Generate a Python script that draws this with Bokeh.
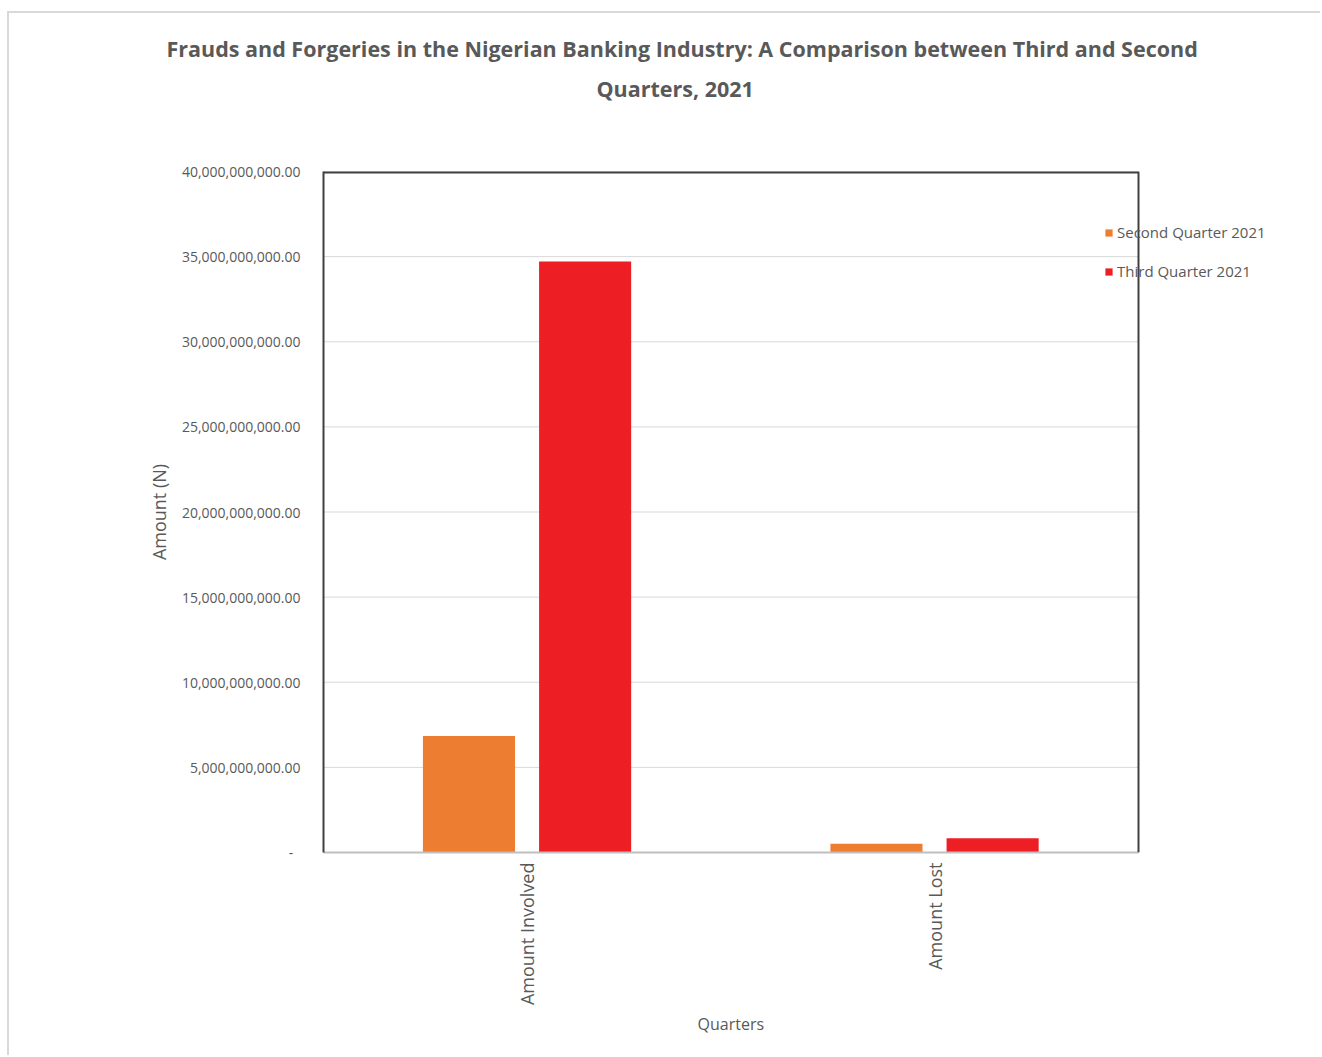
import math

from bokeh.plotting import figure
from bokeh.models import (ColumnDataSource, Range1d, NumeralTickFormatter, FixedTicker,
                          Title, Span)
from bokeh.transform import dodge
from bokeh.embed import file_html
from bokeh.resources import INLINE

# Frauds and forgeries, Nigerian banks, Q2 vs Q3 2021 (Naira)
categories = ["Amount Involved", "Amount Lost"]
series_names = ["Second Quarter 2021", "Third Quarter 2021"]
second_quarter_2021 = [6.85e9, 0.52e9]
third_quarter_2021 = [34.72e9, 0.84e9]
y_ticks = [0, 5e9, 10e9, 15e9, 20e9, 25e9, 30e9, 35e9, 40e9]
title_lines = [
    "Frauds and Forgeries in the Nigerian Banking Industry: A Comparison between Third and Second",
    "Quarters, 2021",
]
x_title = "Quarters"
y_title = "Amount (N)"

FONT = "Open Sans"
GREY_TEXT = "#595959"
BORDER = "#404040"
GRID = "#d9d9d9"
ORANGE = "#ED7D31"
RED = "#EE1F24"

# each category occupies one unit on the x scale, centred at i + 0.5
n_cat = len(categories)
cat_pos = [i + 0.5 for i in range(n_cat)]
Y_MAX = y_ticks[-1]

# the drawing area is 815 px wide for the categories; the frame runs on to the
# right so the legend can sit across the plot's right edge
PLOT_PX, FRAME_PX = 815, 969
x_end = n_cat * FRAME_PX / PLOT_PX

source = ColumnDataSource(dict(x=cat_pos, q2=second_quarter_2021, q3=third_quarter_2021))

p = figure(
    x_range=Range1d(0, x_end),
    y_range=Range1d(0, Y_MAX),
    width=1313, height=1044,
    min_border_left=314, min_border_right=30,
    min_border_top=158, min_border_bottom=205,
    output_backend="svg", toolbar_location=None,
)
p.margin = (11, 0, 0, 7)
p.styles = {"border-left": "2px solid #d9d9d9", "border-top": "2px solid #d9d9d9"}
p.outline_line_color = None
p.xgrid.grid_line_color = None
p.ygrid.grid_line_color = None

# horizontal gridlines across the plot area only
p.segment(x0=[0] * len(y_ticks), x1=[n_cat] * len(y_ticks), y0=y_ticks, y1=y_ticks,
          line_color=GRID, line_width=1)

p.vbar(x=dodge("x", -0.143), top="q2", width=0.226, source=source,
       fill_color=ORANGE, line_color=None, legend_label=series_names[0])
p.vbar(x=dodge("x", 0.142), top="q3", width=0.226, source=source,
       fill_color=RED, line_color=None, legend_label=series_names[1])

# plot-area border: top and right edges (left edge is the y axis line)
p.segment(x0=[0], x1=[n_cat], y0=[Y_MAX], y1=[Y_MAX], line_color=BORDER, line_width=4)
p.add_layout(Span(location=n_cat, dimension="height", line_color=BORDER, line_width=2))

# y axis
p.yaxis.ticker = FixedTicker(ticks=y_ticks)
p.yaxis.formatter = NumeralTickFormatter(format="0,0.00")
p.yaxis.major_label_overrides = {0: "-\u00a0\u00a0"}
p.yaxis.axis_line_color = BORDER
p.yaxis.axis_line_width = 2
p.yaxis.major_tick_line_color = None
p.yaxis.minor_tick_line_color = None
p.yaxis.major_label_standoff = 17
p.yaxis.axis_label = y_title
p.yaxis.axis_label_standoff = 8
p.yaxis.major_label_text_font_size = "14px"
p.yaxis.axis_label_text_font_size = "18px"
p.yaxis.axis_label_text_font = FONT
p.yaxis.axis_label_text_font_style = "normal"
p.yaxis.axis_label_text_color = GREY_TEXT

# x axis
p.xaxis.ticker = FixedTicker(ticks=cat_pos)
p.xaxis.major_label_overrides = dict(zip(cat_pos, categories))
p.xaxis.bounds = (0, n_cat)
p.xaxis.axis_line_color = "#bfbfbf"
p.xaxis.axis_line_width = 2
p.xaxis.major_tick_line_color = None
p.xaxis.minor_tick_line_color = None
p.xaxis.major_label_orientation = math.pi / 2
p.xaxis.major_label_standoff = 4
p.xaxis.major_label_text_font_size = "18px"

for ax in (p.xaxis, p.yaxis):
    ax.major_label_text_font = FONT
    ax.major_label_text_color = GREY_TEXT

# x-axis title, centred under the plot area rather than the whole frame
p.add_layout(Title(text=x_title, align="left", offset=374, standoff=8,
                   vertical_align="top", text_font=FONT, text_font_size="16px",
                   text_font_style="normal", text_color=GREY_TEXT), "below")

# legend, straddling the right edge of the plot area
lg = p.legend[0]
lg.location = (781, 571)
lg.orientation = "vertical"
lg.padding = 0
lg.margin = 0
lg.spacing = 19
lg.glyph_width = 9
lg.glyph_height = 9
lg.label_standoff = 4
lg.label_height = 20
lg.border_line_color = None
lg.background_fill_alpha = 0
lg.label_text_font = FONT
lg.label_text_font_size = "15px"
lg.label_text_color = GREY_TEXT

# title block above the frame, stacked upwards from the frame:
# a blank gap, then the second line, then the first line
p.add_layout(Title(text="\u00a0", standoff=55, text_font_size="10px"), "above")
p.add_layout(Title(text=title_lines[1], align="left", offset=273, standoff=2,
                   text_font=FONT, text_font_size="21.5px", text_font_style="bold",
                   text_color=GREY_TEXT), "above")
p.add_layout(Title(text=title_lines[0], align="left", offset=-157, standoff=15,
                   text_font=FONT, text_font_size="21.5px", text_font_style="bold",
                   text_color=GREY_TEXT), "above")

open("out.html", "w").write(file_html(p, INLINE))
